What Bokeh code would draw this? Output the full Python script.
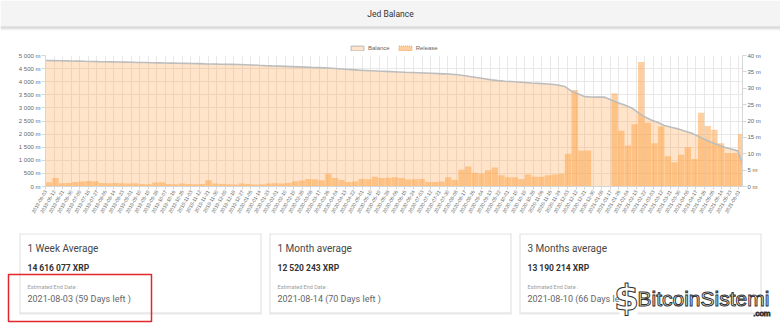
import pandas as pd
from math import pi
from bokeh.plotting import figure
from bokeh.layouts import column
from bokeh.models import (Range1d, LinearAxis, FixedTicker, DatetimeTickFormatter,
                          Legend, LegendItem)
from bokeh.core.properties import value
from bokeh.embed import file_html
from bokeh.resources import INLINE

# ---------------- data ----------------
TITLE = "Jed Balance"
SERIES = ["Balance", "Release"]
FIRST_WEEK = "2019-06-03"
LAST_DAY = "2021-06-05"
LAST_LABEL = "2021-06-01"
week_starts = pd.date_range(FIRST_WEEK, periods=105, freq="7D")

# balance (millions XRP) at the start of each week
balance_m = [
    4810, 4805, 4800, 4795, 4789, 4784, 4778, 4773, 4767, 4762,
    4757, 4751, 4746, 4741, 4735, 4730, 4725, 4720, 4714, 4709,
    4704, 4699, 4693, 4688, 4682, 4677, 4671, 4666, 4660, 4654,
    4648, 4640, 4625, 4614, 4604, 4595, 4586, 4577, 4567, 4557,
    4547, 4538, 4528, 4512, 4496, 4478, 4460, 4442, 4430, 4418,
    4406, 4395, 4384, 4373, 4362, 4352, 4342, 4332, 4321, 4310,
    4298, 4282, 4265, 4230, 4190, 4150, 4110, 4070, 4040, 4020,
    4005, 3990, 3970, 3950, 3935, 3920, 3900, 3875, 3820, 3640,
    3540, 3430, 3415, 3412, 3410, 3300, 3200, 3110, 3010, 2830,
    2660, 2540, 2440, 2330, 2260, 2200, 2120, 2040, 1930, 1800,
    1690, 1590, 1500, 1430, 1360,
]
balance_end_m = 880

# release (millions XRP) per week
release_m = [
    1.3, 2.6, 1.0, 1.1, 1.4, 1.5, 1.7, 1.6, 1.1, 1.0,
    1.1, 1.0, 0.9, 1.0, 0.8, 0.7, 1.2, 1.3, 0.8, 0.7,
    0.9, 0.8, 0.7, 0.8, 1.9, 0.9, 0.8, 0.7, 0.6, 0.9,
    0.8, 0.6, 0.7, 0.9, 1.0, 0.9, 1.1, 1.6, 1.8, 2.3,
    2.2, 1.9, 3.9, 2.6, 2.0, 1.4, 1.5, 2.3, 2.2, 3.0,
    2.6, 2.7, 2.8, 2.6, 2.1, 2.2, 2.3, 1.4, 1.4, 1.5,
    2.8, 2.0, 5.1, 6.1, 4.2, 4.0, 5.0, 5.8, 3.4, 2.8,
    2.8, 2.3, 3.7, 3.0, 3.0, 3.4, 3.7, 3.9, 10.0, 29.5,
    11.0, 11.0, 0.0, 0.0, 0.0, 28.5, 17.0, 12.5, 19.0, 38.0,
    19.5, 13.2, 18.3, 9.2, 7.4, 9.7, 12.0, 8.4, 22.5, 18.5,
    17.3, 13.2, 10.2, 10.2, 16.0,
]

left_ticks = [0, 500, 1000, 1500, 2000, 2500, 3000, 3500, 4000, 4500, 5000]
left_tick_labels = ["0 m", "500 m", "1 000 m", "1 500 m", "2 000 m", "2 500 m",
                    "3 000 m", "3 500 m", "4 000 m", "4 500 m", "5 000 m"]
right_ticks = [0, 5, 10, 15, 20, 25, 30, 35, 40]
right_tick_labels = ["0 m", "5 m", "10 m", "15 m", "20 m", "25 m", "30 m", "35 m", "40 m"]
x_tick_dates = pd.date_range(FIRST_WEEK, LAST_LABEL, freq="9D")

card_titles = ["1 Week Average", "1 Month average", "3 Months average"]
card_amounts = ["14 616 077 XRP", "12 520 243 XRP", "13 190 214 XRP"]
card_end_label = "Estimated End Date :"
card_end_dates = ["2021-08-03 (59 Days left )", "2021-08-14 (70 Days left )",
                  "2021-08-10 (66 Days left )"]
WATERMARK = "BitcoinSistemi"
WATERMARK_SUB = ".com"

# ---------------- styles ----------------
ORANGE = "#ff9f40"
GRID = "#e8e8e8"
AXIS = "#d6d6d6"
LABEL = "#666666"
CHART_FONT = "Liberation Sans"
UI_FONT = "Roboto"
DAY_MS = 86400000.0


def ms(ts):
    return pd.Timestamp(ts).timestamp() * 1000.0


# ---------------- header ----------------
hdr = figure(width=780, height=51, x_range=Range1d(0, 780), y_range=Range1d(51, 0),
             output_backend="svg", toolbar_location=None, min_border=0,
             x_axis_location=None, y_axis_location=None, outline_line_color=None,
             background_fill_color="white", border_fill_color="white", frame_align=False)
hdr.grid.visible = False
hdr.quad(left=[0, 0, 0, 0], right=[780, 780, 780, 780], top=[0, 26, 27.3, 28.6],
         bottom=[26, 27.3, 28.6, 30], fill_color=["#f4f4f4", "#cdcdcd", "#e2e2e2", "#f3f3f3"],
         line_color=None)
hdr.text(x=[390], y=[13.5], text=[TITLE], text_align="center", text_baseline="middle",
         text_font=value(UI_FONT), text_font_size="8.5px", text_color="#333333")

# legend-only swatches (placed off-frame)
leg_bal = hdr.quad(left=[-50], right=[-40], top=[-50], bottom=[-40], fill_color=ORANGE,
                   fill_alpha=0.28, line_color="#b8b8b8", line_width=1)
leg_rel = hdr.quad(left=[-50], right=[-40], top=[-50], bottom=[-40], fill_color=ORANGE,
                   fill_alpha=0.5, line_color="#f59a4a", line_width=1, line_dash="1 1")
legend = Legend(items=[LegendItem(label=SERIES[0], renderers=[leg_bal]),
                       LegendItem(label=SERIES[1], renderers=[leg_rel])],
                orientation="horizontal", location=(349, 0), margin=0, padding=0,
                spacing=7, glyph_width=16, glyph_height=6, label_standoff=3,
                label_height=6, label_text_font=CHART_FONT, label_text_font_size="6px",
                label_text_color=LABEL, border_line_color=None, background_fill_alpha=0)
hdr.add_layout(legend)

# ---------------- chart ----------------
p = figure(width=780, height=177, x_axis_type="datetime",
           x_range=Range1d(ms(FIRST_WEEK), ms(LAST_DAY)), y_range=Range1d(0, 5000),
           output_backend="svg", toolbar_location=None,
           min_border_left=45, min_border_right=38, min_border_top=4, min_border_bottom=42,
           background_fill_color="white", border_fill_color="white", outline_line_color=None,
           frame_align=False)
p.extra_y_ranges = {"rel": Range1d(0, 40)}

bal_x = list(week_starts) + [pd.Timestamp(LAST_DAY)]
bal_y = balance_m + [balance_end_m]
p.varea(x=bal_x, y1=0, y2=bal_y, fill_color=ORANGE, fill_alpha=0.28)
p.vbar(x=week_starts + pd.Timedelta(days=3.5), top=release_m, bottom=0,
       width=7 * DAY_MS * 0.95, y_range_name="rel",
       fill_color=ORANGE, fill_alpha=0.5, line_color=None)
p.line(x=bal_x, y=bal_y, line_color="#bdbdbd", line_width=1.6)

p.xaxis.ticker = FixedTicker(ticks=[ms(d) for d in x_tick_dates])
p.xaxis.formatter = DatetimeTickFormatter(days="%Y-%m-%d", months="%Y-%m-%d",
                                          years="%Y-%m-%d", hours="%Y-%m-%d")
p.xaxis.major_label_orientation = pi / 3
p.xaxis.major_label_text_font_size = "5px"
p.xaxis.major_tick_out = 3
p.xaxis.major_label_standoff = 1

p.yaxis.ticker = FixedTicker(ticks=left_ticks)
p.yaxis.major_label_overrides = dict(zip(left_ticks, left_tick_labels))

right_axis = LinearAxis(y_range_name="rel", ticker=FixedTicker(ticks=right_ticks),
                        major_label_overrides=dict(zip(right_ticks, right_tick_labels)))
p.add_layout(right_axis, "right")

for ax in [p.yaxis[0], right_axis]:
    ax.major_label_text_font_size = "6px"
    ax.major_tick_out = 4
    ax.major_label_standoff = 1
for ax in p.axis:
    ax.axis_line_color = AXIS
    ax.major_tick_line_color = AXIS
    ax.major_tick_in = 0
    ax.minor_tick_line_color = None
    ax.major_label_text_color = LABEL
    ax.major_label_text_font = CHART_FONT

p.xgrid.grid_line_color = GRID
p.ygrid.grid_line_color = GRID

# ---------------- cards ----------------
cards = figure(width=780, height=99, x_range=Range1d(0, 780), y_range=Range1d(327, 228),
               output_backend="svg", toolbar_location=None, min_border=0,
               x_axis_location=None, y_axis_location=None, outline_line_color=None,
               background_fill_color="white", border_fill_color="white", frame_align=False)
cards.grid.visible = False
card_left = [20, 270, 520]
CW, CT, CB = 240, 234, 312
cards.quad(left=[c - 1.5 for c in card_left], right=[c + CW + 1.5 for c in card_left],
           top=[CT - 1.2] * 3, bottom=[CB + 2.2] * 3, fill_color="#f1f1f1", line_color=None)
cards.quad(left=[c - 0.6 for c in card_left], right=[c + CW + 0.6 for c in card_left],
           top=[CT - 0.5] * 3, bottom=[CB + 1.1] * 3, fill_color="#dddddd", line_color=None)
cards.quad(left=card_left, right=[c + CW for c in card_left], top=[CT] * 3, bottom=[CB] * 3,
           fill_color="white", line_color=None)
tx = [c + 7 for c in card_left]
cards.text(x=tx, y=[248] * 3, text=card_titles, text_baseline="middle",
           text_font=value(UI_FONT), text_font_size="10px", text_color="#474747")
cards.text(x=tx, y=[267.5] * 3, text=card_amounts, text_baseline="middle",
           text_font=value(UI_FONT), text_font_size="8.5px", text_font_style="bold",
           text_color="#333333")
cards.text(x=tx, y=[286] * 3, text=[card_end_label] * 3, text_baseline="middle",
           text_font=value(UI_FONT), text_font_size="5.5px", text_color="#9e9e9e")
cards.text(x=tx, y=[298] * 3, text=card_end_dates, text_baseline="middle",
           text_font=value(UI_FONT), text_font_size="9px", text_color="#666666")

# red highlight box
cards.quad(left=[8], right=[151], top=[274], bottom=[321], fill_color=None,
           line_color="#e3262b", line_width=1.5)

# watermark
cards.quad(left=[619], right=[637], top=[279], bottom=[316], fill_color="white", line_color=None)
cards.text(x=[626], y=[297], text=["$"], text_align="center", text_baseline="middle",
           text_font=value("DejaVu Sans"), text_font_style="bold", text_font_size="36px",
           text_color="white", text_outline_color="#333333")
cards.text(x=[637], y=[298], text=[WATERMARK], text_baseline="middle",
           text_font=value("Liberation Sans"), text_font_size="21px",
           text_color="white", text_outline_color="#333333")
cards.text(x=[770], y=[313], text=[WATERMARK_SUB], text_align="right", text_baseline="middle",
           text_font=value("Liberation Sans"), text_font_size="8px",
           text_color="white", text_outline_color="#333333")

layout = column(hdr, p, cards, spacing=0)
open("out.html", "w").write(file_html(layout, INLINE))
